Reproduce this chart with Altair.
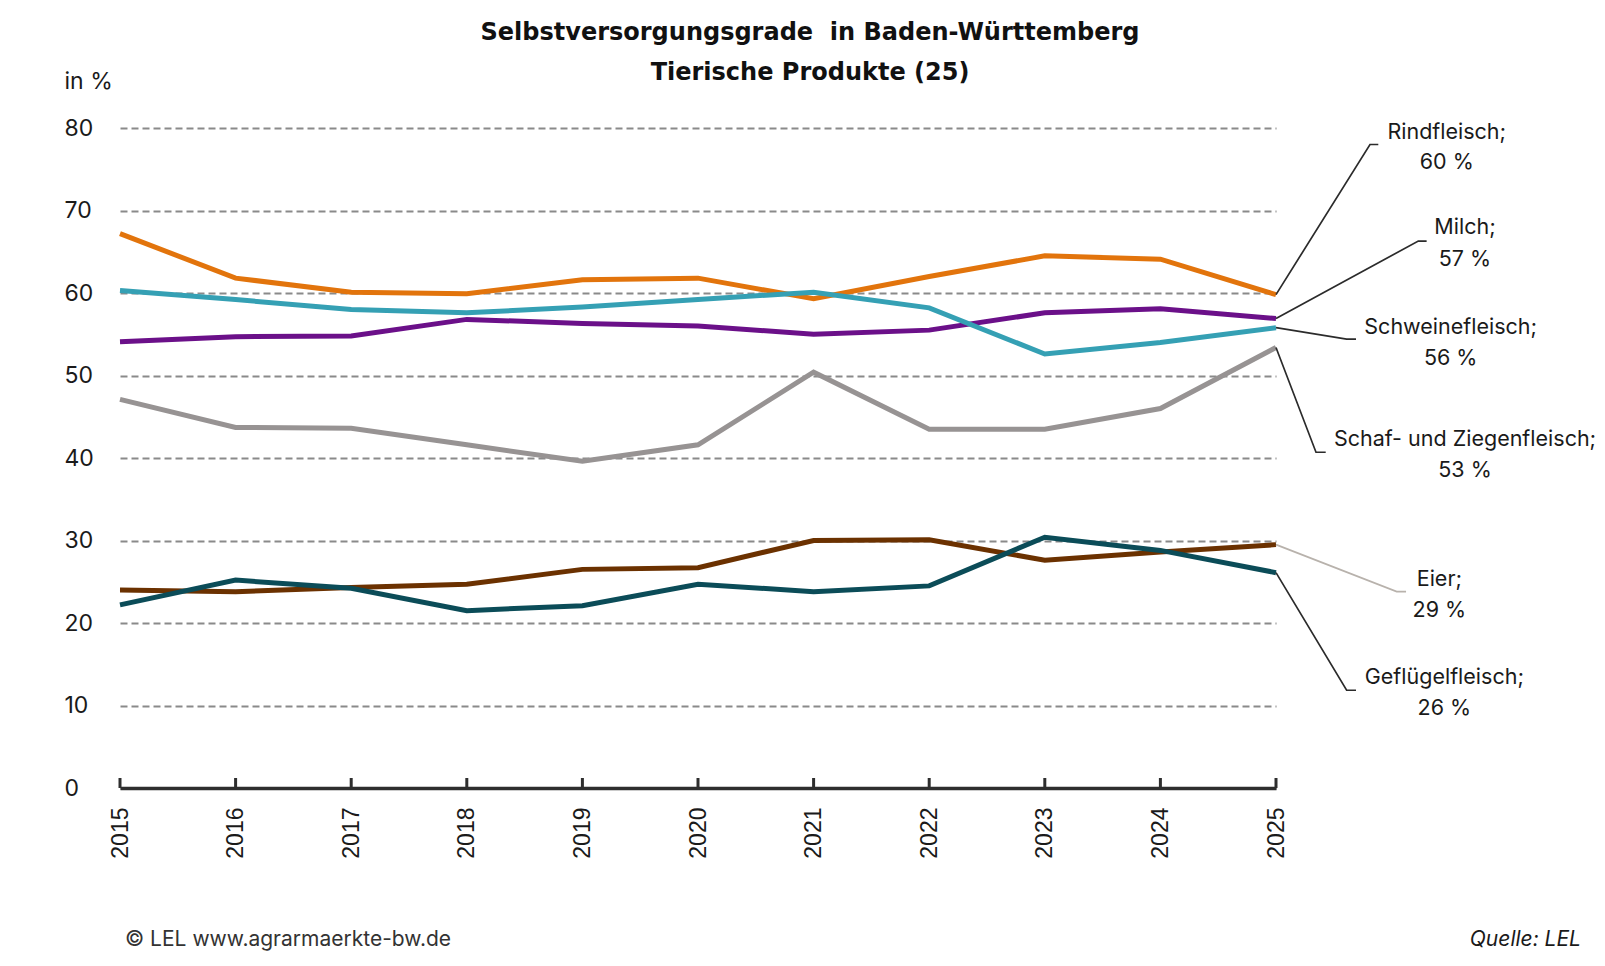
import altair as alt
import pandas as pd

# ---------------- data ----------------
years = list(range(2015, 2026))

rindfleisch = [67.2, 61.8, 60.1, 59.9, 61.6, 61.8, 59.3, 62.0, 64.5, 64.1, 59.8]
milch = [54.1, 54.7, 54.8, 56.8, 56.3, 56.0, 55.0, 55.5, 57.6, 58.1, 56.9]
schweinefleisch = [60.3, 59.2, 58.0, 57.6, 58.3, 59.2, 60.1, 58.2, 52.6, 54.0, 55.8]
schaf_ziege = [47.1, 43.7, 43.6, 41.6, 39.6, 41.6, 50.4, 43.5, 43.5, 46.0, 53.4]
eier = [24.0, 23.8, 24.3, 24.7, 26.5, 26.7, 30.0, 30.1, 27.6, 28.6, 29.5]
gefluegel = [22.2, 25.2, 24.2, 21.5, 22.1, 24.7, 23.8, 24.5, 30.4, 28.8, 26.1]

series_names = ["Schaf- und Ziegenfleisch", "Milch", "Rindfleisch", "Schweinefleisch",
                "Eier", "Geflügelfleisch"]
series_values = [schaf_ziege, milch, rindfleisch, schweinefleisch, eier, gefluegel]
series_colors = ["#979393", "#6B1089", "#E2740C", "#35A0B4", "#6B3100", "#0B4C58"]

label_pct = ["53 %", "57 %", "60 %", "56 %", "29 %", "26 %"]

# annotation anchors (data units) for the leader lines and labels
elbow_x = [2025.346, 2026.231, 2025.813, 2025.611, 2026.044, 2025.611]
elbow_y = [40.7, 66.3, 78.0, 54.4, 23.8, 11.85]
end_x = [2025.430, 2026.303, 2025.885, 2025.692, 2026.125, 2025.692]
text_x = [2026.635, 2026.635, 2026.477, 2026.511, 2026.413, 2026.456]
text_y1 = [42.16, 67.85, 79.38, 55.77, 25.18, 13.34]
text_y2 = [38.44, 63.97, 75.75, 51.98, 21.42, 9.54]
leader_colors = ["#2b2b2b", "#2b2b2b", "#2b2b2b", "#2b2b2b", "#b8b2ac", "#2b2b2b"]

y_ticks = [0, 10, 20, 30, 40, 50, 60, 70, 80]

# ---------------- tables ----------------
rows = []
for name, vals in zip(series_names, series_values):
    for yr, v in zip(years, vals):
        rows.append({"series": name, "year": yr, "value": v})
df = pd.DataFrame(rows)

lead_rows = []
for i, name in enumerate(series_names):
    last = series_values[i][-1]
    lead_rows.append({"series": name, "year": 2025, "value": last, "idx": 0, "lc": leader_colors[i]})
    lead_rows.append({"series": name, "year": elbow_x[i], "value": elbow_y[i], "idx": 1, "lc": leader_colors[i]})
    lead_rows.append({"series": name, "year": end_x[i], "value": elbow_y[i], "idx": 2, "lc": leader_colors[i]})
df_lead = pd.DataFrame(lead_rows)

text_rows = []
for i, name in enumerate(series_names):
    text_rows.append({"year": text_x[i], "value": text_y1[i], "text": name + ";"})
    text_rows.append({"year": text_x[i], "value": text_y2[i], "text": label_pct[i]})
df_text = pd.DataFrame(text_rows)

df_years = pd.DataFrame({"year": years})

# ---------------- chart ----------------
x_scale = alt.Scale(domain=[2015, 2025], nice=False, zero=False)
y_scale = alt.Scale(domain=[0, 80], nice=False)

x_axis = alt.Axis(
    values=years, format="d", labelAngle=-90, grid=False, ticks=False, tickSize=0,
    labelFont="Liberation Sans", labelFontSize=23, labelColor="#1a1a1a", labelPadding=19,
    domainColor="#2e2e2e", domainWidth=3.5, title="",
)
y_axis = alt.Axis(
    values=y_ticks, domain=False, ticks=False, tickSize=0, labelAlign="left", labelPadding=56,
    labelFont="Inter", labelFontSize=23, labelColor="#1a1a1a", labelBaseline="middle",
    grid=True, gridDash=[7, 4], gridColor="#8a8a8a", gridWidth=2,
    title="in %", titleAngle=0, titleAlign="left", titleBaseline="alphabetic",
    titleX=-56, titleY=-40, titleFont="Inter", titleFontSize=23, titleFontWeight="normal",
    titleColor="#1a1a1a",
)

lines = alt.Chart(df).mark_line(strokeWidth=5).encode(
    x=alt.X("year:Q", scale=x_scale, axis=x_axis),
    y=alt.Y("value:Q", scale=y_scale, axis=y_axis),
    color=alt.Color("series:N", scale=alt.Scale(domain=series_names, range=series_colors), legend=None),
)

ticks = alt.Chart(df_years).mark_rule(strokeWidth=3, color="#2e2e2e").encode(
    x=alt.X("year:Q", scale=x_scale, title=""),
    y=alt.value(660),
    y2=alt.value(650),
)

leaders = alt.Chart(df_lead).mark_line(strokeWidth=1.7).encode(
    x=alt.X("year:Q", scale=x_scale, title=""),
    y=alt.Y("value:Q", scale=y_scale, title="in %"),
    detail="series:N",
    order="idx:Q",
    color=alt.Color("lc:N", scale=None),
)

labels = alt.Chart(df_text).mark_text(
    font="Inter", fontSize=21.5, color="#1a1a1a", align="center", baseline="middle"
).encode(
    x=alt.X("year:Q", scale=x_scale, title=""),
    y=alt.Y("value:Q", scale=y_scale, title="in %"),
    text="text:N",
)

footer_left = alt.Chart(pd.DataFrame({"t": ["© LEL www.agrarmaerkte-bw.de"]})).mark_text(
    font="Inter", fontSize=21, color="#333333", align="left", baseline="middle"
).encode(x=alt.value(5), y=alt.value(812), text="t:N")

footer_right = alt.Chart(pd.DataFrame({"t": ["Quelle: LEL"]})).mark_text(
    font="Inter", fontSize=21, color="#1a1a1a", align="right", baseline="middle", fontStyle="italic"
).encode(x=alt.value(1461), y=alt.value(812), text="t:N")

chart = alt.layer(lines, ticks, leaders, labels, footer_left, footer_right).properties(
    width=1156,
    height=660,
    background="white",
    padding={"left": 112, "top": 120, "right": 321, "bottom": 165},
    autosize=alt.AutoSizeParams(type="none"),
    title=alt.TitleParams(
        text=["Selbstversorgungsgrade\u00a0 in Baden-Württemberg", "Tierische Produkte (25)"],
        font="DejaVu Sans", fontSize=24, fontWeight="bold", color="#111111",
        anchor="middle", dx=112, frame="group", offset=-39, lineHeight=40, baseline="bottom",
    ),
).configure_view(stroke=None)

chart.save("out.html", embed_options={"renderer": "svg", "actions": False})
